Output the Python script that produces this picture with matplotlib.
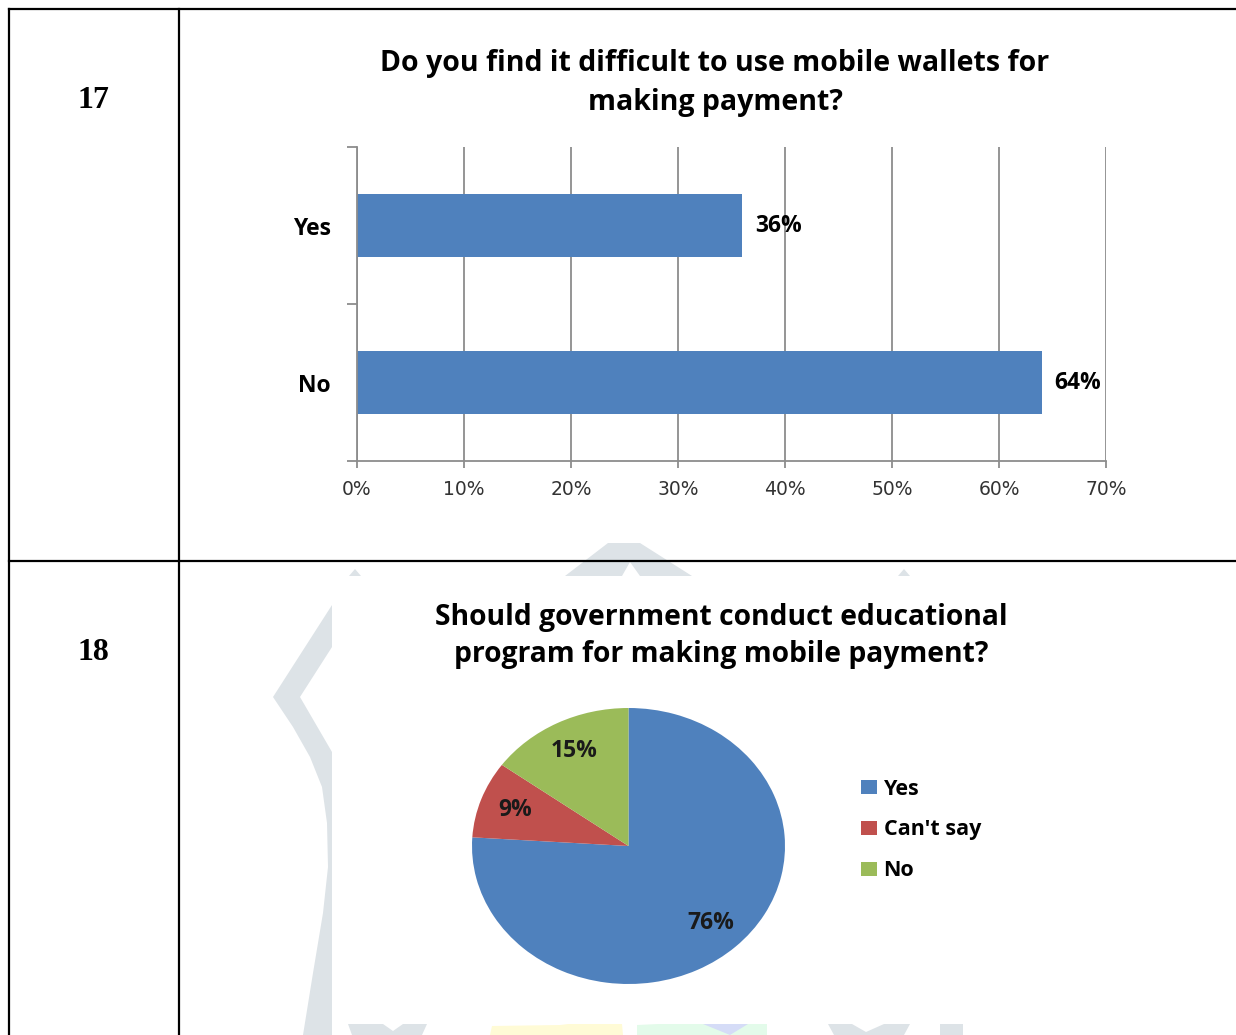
import matplotlib
matplotlib.use("Agg")
import matplotlib.pyplot as plt
from matplotlib.patches import Polygon, Rectangle

W, H = 1236, 1035

# row 17: bar chart
q17_title = "Do you find it difficult to use mobile wallets for\nmaking payment?"
q17_answers = ["No", "Yes"]
q17_share = [64, 36]
q17_ticks = [0, 10, 20, 30, 40, 50, 60, 70]

# row 18: pie chart
q18_title = "Should government conduct educational\nprogram for making mobile payment?"
q18_answers = ["Yes", "Can't say", "No"]
q18_share = [76, 9, 15]
q18_colors = ["#4F81BD", "#C0504D", "#9BBB59"]

row_numbers = ["17", "18"]

BAR_BLUE = "#4F81BD"
GRID = "#8c8c8c"
LABEL_FONT = dict(family="Open Sans", weight="bold")

fig = plt.figure(figsize=(W / 100, H / 100), dpi=100)

# background layer in pixel coordinates: watermark, table lines, row numbers
bg = fig.add_axes([0, 0, 1, 1])
bg.set_xlim(0, W)
bg.set_ylim(H, 0)
bg.axis("off")

wm = "#dde3e7"
shapes = [
    ([(332, 605), (273, 697), (293, 727), (310, 757), (322, 787), (327, 823),
      (328, 867), (323, 913), (313, 973), (303, 1035), (332, 1035),
      (332, 752), (300, 697), (332, 647)], wm),
    ([(565, 576), (608, 543), (640, 543), (692, 576), (640, 576), (630, 562),
      (622, 576)], wm),
    ([(349, 576), (355, 569), (361, 576)], wm),
    ([(898, 576), (904, 569), (910, 576)], wm),
    ([(348, 1024), (383, 1024), (393, 1031), (403, 1024), (427, 1024),
      (422, 1035), (352, 1035)], wm),
    ([(490, 1035), (492, 1026), (560, 1025), (585, 1022), (622, 1024),
      (623, 1035)], "#fffbd6"),
    ([(637, 1035), (637, 1025), (680, 1023), (767, 1024), (767, 1035)], "#e3fbea"),
    ([(703, 1024), (748, 1024), (730, 1035)], "#d5dcf7"),
    ([(828, 1024), (852, 1024), (866, 1032), (884, 1024), (910, 1024),
      (904, 1035), (834, 1035)], wm),
    ([(940, 1024), (963, 1024), (963, 1035), (940, 1035)], wm),
]
for pts, c in shapes:
    bg.add_patch(Polygon(pts, closed=True, facecolor=c, edgecolor="none"))
bg.add_patch(Rectangle((332, 576), W - 332, 1024 - 576, facecolor="white",
                       edgecolor="none"))

lw = 1.6
bg.plot([9, W], [9, 9], color="black", lw=lw, solid_capstyle="projecting")
bg.plot([9, W], [561, 561], color="black", lw=lw)
bg.plot([9, 9], [9, H], color="black", lw=lw, solid_capstyle="projecting")
bg.plot([179, 179], [9, H], color="black", lw=lw)

for num, y in zip(row_numbers, [100, 652]):
    bg.text(93, y, num, family="Liberation Serif", weight="bold", fontsize=23,
            ha="center", va="center")

# bar chart
ax = fig.add_axes([357 / W, 1 - 461 / H, 749 / W, 314 / H])
ax.set_facecolor("none")
ax.barh(q17_answers, q17_share, height=0.4, color=BAR_BLUE)
ax.set_xlim(0, 70)
ax.set_ylim(-0.5, 1.5)
ax.set_xticks(q17_ticks, [f"{t}%" for t in q17_ticks])
ax.xaxis.grid(True, color=GRID, lw=1.3)
ax.set_axisbelow(True)
for s in ["top", "right"]:
    ax.spines[s].set_visible(False)
for s in ["left", "bottom"]:
    ax.spines[s].set_color(GRID)
    ax.spines[s].set_linewidth(1.3)
ax.set_yticks([-0.5, 0.5, 1.5], minor=True)
ax.tick_params(axis="y", which="major", length=0, pad=19, labelsize=16.5)
ax.tick_params(axis="y", which="minor", length=7, color=GRID, width=1.3)
ax.tick_params(axis="x", length=5, color=GRID, width=1.3, pad=9,
               labelsize=13.5, labelcolor="#333333")
for lab in ax.get_yticklabels():
    lab.set(**LABEL_FONT)
for lab in ax.get_xticklabels():
    lab.set_family("DejaVu Sans")
for i, v in enumerate(q17_share):
    ax.annotate(f"{v}%", xy=(v, i), xytext=(9, 0), textcoords="offset points",
                va="center", ha="left", fontsize=16.5, **LABEL_FONT)

fig.text(715 / W, 1 - 83 / H, q17_title, ha="center", va="center",
         fontsize=20.5, linespacing=1.49, **LABEL_FONT)

# pie chart
axp = fig.add_axes([472 / W, 1 - 984 / H, 313 / W, 276 / H])
wedges, _, pcts = axp.pie(q18_share, colors=q18_colors, startangle=90,
                          counterclock=False, autopct=lambda p: f"{p:.0f}%",
                          pctdistance=0.77,
                          textprops=dict(fontsize=16.5, color="#1a1a1a", **LABEL_FONT))
axp.set_aspect("auto")
axp.set_xlim(-1, 1)
axp.set_ylim(-1, 1)

fig.text(721 / W, 1 - 636 / H, q18_title, ha="center", va="center",
         fontsize=20.3, linespacing=1.38, **LABEL_FONT)

fig.legend(wedges, q18_answers, loc="center left",
           bbox_to_anchor=(861 / W, 1 - 830 / H), bbox_transform=fig.transFigure,
           frameon=False, borderpad=0, borderaxespad=0, handlelength=0.75,
           handleheight=0.65, handletextpad=0.3, labelspacing=0.92,
           prop=dict(size=15.5, **LABEL_FONT))

fig.savefig("out.png", dpi=100)
